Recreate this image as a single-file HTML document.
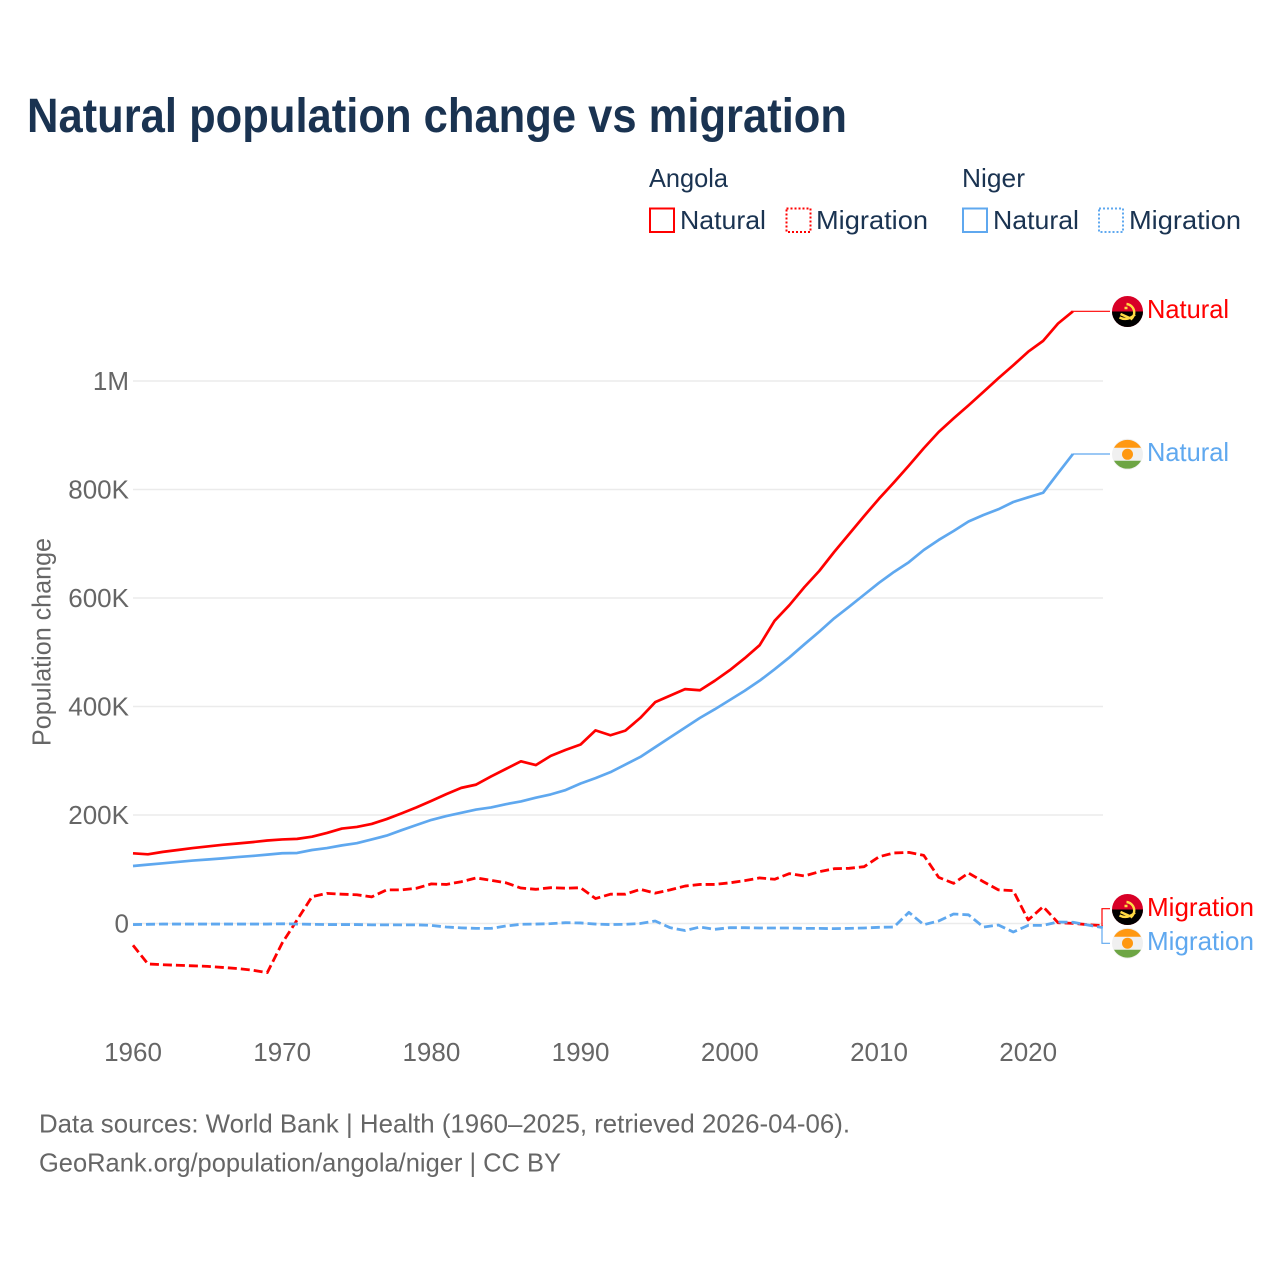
<!DOCTYPE html>
<html lang="en">
<head>
<meta charset="utf-8">
<title>Natural population change vs migration</title>
<style>
  html, body { margin: 0; padding: 0; background: #fff; }
  svg { display: block; font-family: "Liberation Sans", sans-serif; }
</style>
</head>
<body>
<svg id="chart" width="1280" height="1280" viewBox="0 0 1280 1280" xmlns="http://www.w3.org/2000/svg">
  <rect width="1280" height="1280" fill="#ffffff"/>
  <text x="27" y="132" font-size="48" font-weight="700" fill="#1a3351" textLength="820" lengthAdjust="spacingAndGlyphs">Natural population change vs migration</text>

  <g font-size="26" fill="#1a3351">
    <text x="649" y="187" textLength="79" lengthAdjust="spacingAndGlyphs">Angola</text>
    <text x="962" y="187" textLength="63" lengthAdjust="spacingAndGlyphs">Niger</text>
    <rect x="650" y="208.5" width="24" height="23.5" fill="none" stroke="#ff0000" stroke-width="2"/>
    <text x="680" y="229" textLength="86" lengthAdjust="spacingAndGlyphs">Natural</text>
    <rect x="786.5" y="208.5" width="24" height="23.5" fill="none" stroke="#ff0000" stroke-width="2" stroke-dasharray="2 2"/>
    <text x="816" y="229" textLength="112" lengthAdjust="spacingAndGlyphs">Migration</text>
    <rect x="963" y="208.5" width="24" height="23.5" fill="none" stroke="#5fa8ef" stroke-width="2"/>
    <text x="993" y="229" textLength="86" lengthAdjust="spacingAndGlyphs">Natural</text>
    <rect x="1099" y="208.5" width="24" height="23.5" fill="none" stroke="#5fa8ef" stroke-width="2" stroke-dasharray="2 2"/>
    <text x="1129" y="229" textLength="112" lengthAdjust="spacingAndGlyphs">Migration</text>
  </g>

  <g id="grid"></g>
  <g id="yticks" font-size="26" fill="#666666" text-anchor="end"></g>
  <g id="xticks" font-size="26" fill="#666666" text-anchor="middle"></g>
  <text transform="translate(50.5 642) rotate(-90)" font-size="26" fill="#666666" text-anchor="middle" textLength="208" lengthAdjust="spacingAndGlyphs">Population change</text>

  <g id="connectors"></g>
  <g id="series"></g>

  <g transform="translate(1127.5 311.5)">
    <circle r="15.5" fill="#d80027"/>
    <path d="M-15.5 0A15.5 15.5 0 0 0 15.5 0Z" fill="#000000"/>
    <path d="M-1 -7.5A8.5 8.5 0 0 1 3 8M-8 6Q0 10 7.5 3M-7 2.5L2 6.5M-3 -3.5H0" fill="none" stroke="#ffda44" stroke-width="2.4"/>
  </g>
  <g transform="translate(1127.5 454.3)">
    <circle r="15.5" fill="#f0f0f0"/>
    <path d="M-13.5 -6.5A15.5 15.5 0 0 1 13.5 -6.5Z" fill="#ff9811"/>
    <path d="M-13.5 6.5A15.5 15.5 0 0 0 13.5 6.5Z" fill="#6da544"/>
    <circle r="5.5" fill="#ff9811"/>
  </g>
  <g transform="translate(1127.5 909.5)">
    <circle r="15.5" fill="#d80027"/>
    <path d="M-15.5 0A15.5 15.5 0 0 0 15.5 0Z" fill="#000000"/>
    <path d="M-1 -7.5A8.5 8.5 0 0 1 3 8M-8 6Q0 10 7.5 3M-7 2.5L2 6.5M-3 -3.5H0" fill="none" stroke="#ffda44" stroke-width="2.4"/>
  </g>
  <g transform="translate(1127.5 943.2)">
    <circle r="15.5" fill="#f0f0f0"/>
    <path d="M-13.5 -6.5A15.5 15.5 0 0 1 13.5 -6.5Z" fill="#ff9811"/>
    <path d="M-13.5 6.5A15.5 15.5 0 0 0 13.5 6.5Z" fill="#6da544"/>
    <circle r="5.5" fill="#ff9811"/>
  </g>

  <g font-size="26">
    <text x="1147" y="318" fill="#ff0000" textLength="82" lengthAdjust="spacingAndGlyphs">Natural</text>
    <text x="1147" y="461" fill="#5fa8ef" textLength="82" lengthAdjust="spacingAndGlyphs">Natural</text>
    <text x="1147" y="916" fill="#ff0000" textLength="107" lengthAdjust="spacingAndGlyphs">Migration</text>
    <text x="1147" y="950" fill="#5fa8ef" textLength="107" lengthAdjust="spacingAndGlyphs">Migration</text>
  </g>

  <g font-size="26" fill="#666666">
    <text x="39" y="1132.5" textLength="811" lengthAdjust="spacingAndGlyphs">Data sources: World Bank | Health (1960–2025, retrieved 2026-04-06).</text>
    <text x="39" y="1171.5" textLength="522" lengthAdjust="spacingAndGlyphs">GeoRank.org/population/angola/niger | CC BY</text>
  </g>
</svg>
<script>
// Values in thousands of people
const years = [1960,1961,1962,1963,1964,1965,1966,1967,1968,1969,1970,1971,1972,1973,1974,1975,1976,1977,1978,1979,1980,1981,1982,1983,1984,1985,1986,1987,1988,1989,1990,1991,1992,1993,1994,1995,1996,1997,1998,1999,2000,2001,2002,2003,2004,2005,2006,2007,2008,2009,2010,2011,2012,2013,2014,2015,2016,2017,2018,2019,2020,2021,2022,2023,2024,2025];
const angolaNatural = [129.4,127.5,132,135.5,139,142,145,147.5,150,153,155,156,160,167,175,178,183.5,192.5,203,214,226,238.5,250,256,271,285,299,292,309,320,330,356,347,355.5,379,408,420,432,430,447.6,467,489,513,558,587,620,650,685,718,751,783,813,844,876,906,931,955,980,1005,1029,1054,1074,1106,1128.5];
const nigerNatural = [106,108.5,111,113.5,116,118,120,122.5,124.5,127,129.5,130,135.5,139,144,148,155,162,172,181.5,191,198,204,210,214,220,225,232,238,246,258,268,279,293,307,325,343,361,379,395,412,429,447.6,468.5,490.7,514.6,538,562.6,584,606,628,648,666,688.5,707,723.5,741,753,763.5,777,785.6,794,830,865.5];
const angolaMigration = [-40,-74.6,-76,-77,-78,-79,-81,-83,-86,-90.6,-36,6.5,49.5,55.6,54,53,49,62,62,65,73,72,77,84,79.6,75,65.4,63,66,65,66,46,54,54,63,56,62,69,72,72,75,79,84,81.5,92,87.6,95.5,101,101.7,104.7,123,130,131,125.6,85,74,93,77,62,60.5,6.5,31,1.5,0.3,-2.2,-4];
const nigerMigration = [-2,-1.5,-1,-1,-1,-1,-1,-1,-1,-1,-0.5,-1,-1.5,-2,-2,-2,-2.5,-2.5,-2.5,-2.5,-3.5,-6.5,-8,-9,-9,-4.6,-1.5,-1,-0.3,1.5,1,-1,-2,-1.5,0,4.6,-7.7,-13,-6.5,-10.7,-7.7,-7.7,-8.3,-8.3,-8.3,-9,-9,-9.5,-9,-8.3,-7,-6.5,20.6,-2.2,4.6,17.5,16,-6.5,-2.8,-15.7,-3.4,-3.4,2.8,2.2,-2.8,-7.7];
const yTickValues = [0,200,400,600,800,1000];
const yTickLabels = ["0","200K","400K","600K","800K","1M"];
const xTickValues = [1960,1970,1980,1990,2000,2010,2020];

const SVG_NS = "http://www.w3.org/2000/svg";
const RED = "#ff0000";
const BLUE = "#5fa8ef";
const PLOT_LEFT = 133;
const PLOT_RIGHT = 1103;
const ZERO_Y = 923.5;
const THOUSAND_PX = 0.5425;
const YEAR_PX = 14.92;

function xScale(year) { return PLOT_LEFT + (year - years[0]) * YEAR_PX; }
function yScale(value) { return ZERO_Y - value * THOUSAND_PX; }

function make(tag, attrs) {
  const el = document.createElementNS(SVG_NS, tag);
  for (const key in attrs) el.setAttribute(key, attrs[key]);
  return el;
}

const gridGroup = document.getElementById("grid");
const yTickGroup = document.getElementById("yticks");
const xTickGroup = document.getElementById("xticks");
const seriesGroup = document.getElementById("series");
const connectorGroup = document.getElementById("connectors");

yTickValues.forEach(function (value, i) {
  const gridLine = make("line", { x1: PLOT_LEFT, x2: PLOT_RIGHT, y1: yScale(value), y2: yScale(value), stroke: "#ebebeb", "stroke-width": 1.5 });
  
  
  gridGroup.appendChild(gridLine);
  const label = make("text", { x: 129, y: yScale(value) + 9 });
  
  
  label.textContent = yTickLabels[i];
  yTickGroup.appendChild(label);
});

xTickValues.forEach(function (year) {
  const label = make("text", { x: xScale(year), y: 1061 });
  
  
  label.textContent = year;
  xTickGroup.appendChild(label);
});

function drawSeries(values, color, dash) {
  const points = values.map(function (v, i) { return xScale(years[i]) + "," + yScale(v); }).join(" ");
  const line = make("polyline", { points: points, fill: "none", stroke: color, "stroke-width": dash ? 2.8 : 2.7, "stroke-linejoin": "round" });
  if (dash) line.setAttribute("stroke-dasharray", "9 4");
  
  
  seriesGroup.appendChild(line);
}

function drawConnector(values, color, labelY) {
  const lastX = xScale(years[values.length - 1]);
  const lastY = yScale(values[values.length - 1]);
  let path;
  if (values.length === years.length) {
    path = "M" + lastX + " " + lastY + "H1102V" + labelY + "H1110";
  } else {
    path = "M" + lastX + " " + lastY + "H1110";
  }
  const connector = make("path", { d: path, fill: "none", stroke: color, "stroke-width": 1.2 });
  
  
  connectorGroup.appendChild(connector);
}

drawConnector(angolaNatural, RED, 311.5);
drawConnector(nigerNatural, BLUE, 454);
drawConnector(angolaMigration, RED, 908.7);
drawConnector(nigerMigration, BLUE, 943.3);

drawSeries(angolaNatural, RED, false);
drawSeries(angolaMigration, RED, true);
drawSeries(nigerNatural, BLUE, false);
drawSeries(nigerMigration, BLUE, true);
</script>
</body>
</html>
